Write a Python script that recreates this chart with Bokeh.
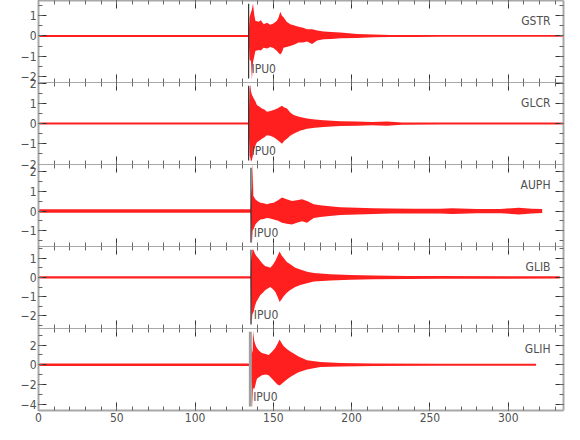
from bokeh.plotting import figure
from bokeh.layouts import column
from bokeh.models import SingleIntervalTicker, LinearAxis, Range1d, Label
from bokeh.embed import file_html
from bokeh.resources import INLINE

stations = ["GSTR", "GLCR", "AUPH", "GLIB", "GLIH"]
phase_name = "IPU0"
pick_times = [134.2, 134.2, 135.7, 135.7, 135.3]
y_ranges = [(-2.3, 1.75), (-2.02, 2.03), (-1.81, 2.38), (-2.66, 1.61), (-4.65, 3.68)]
y_intervals = [1, 1, 1, 1, 2]
x_max = 335.3

# Envelopes of each trace (time in s, upper and lower amplitude)
gstr_t = [0, 134.2, 134.8, 135.7, 136.3, 137.0, 137.8, 138.5, 140.6, 142.0, 143.8, 146.0, 148.0, 150.0,
          152.3, 153.5, 154.4, 155.5, 156.5, 158.5, 160.8, 163.5, 166.1, 169.0, 171.5, 174.7, 178.0,
          182.1, 187.0, 192.8, 203.5, 214.0, 224.7, 240.0, 256.7, 335.3]
gstr_up = [0.05, 0.05, 0.92, 1.17, 1.3, 1.6, 1.05, 0.75, 0.7, 0.78, 0.58, 0.65, 0.55, 0.62, 0.75, 0.95,
           1.2, 1.0, 0.92, 0.7, 0.58, 0.52, 0.45, 0.4, 0.33, 0.33, 0.27, 0.22, 0.2, 0.17, 0.1, 0.07,
           0.05, 0.05, 0.04, 0.04]
gstr_lo = [-0.05, -0.05, -1.17, -1.25, -2.17, -1.3, -1.0, -0.75, -0.7, -0.72, -0.58, -0.62, -0.55, -0.6,
           -0.75, -0.85, -0.92, -0.8, -0.58, -0.55, -0.5, -0.42, -0.33, -0.32, -0.28, -0.4, -0.22,
           -0.17, -0.15, -0.12, -0.1, -0.07, -0.05, -0.05, -0.04, -0.04]

glcr_t = [0, 134.2, 134.8, 135.3, 135.7, 136.3, 137.4, 138.5, 139.5, 141.0, 142.7, 144.3, 145.9, 148.0,
          150.2, 152.5, 155.5, 157.0, 158.7, 160.8, 162.9, 167.0, 171.5, 176.5, 182.1, 192.8, 203.5,
          213.0, 222.6, 232.2, 256.7, 335.3]
glcr_up = [0.05, 0.05, 1.75, 1.92, 1.6, 1.42, 1.25, 1.1, 0.92, 0.85, 0.75, 0.7, 0.58, 0.62, 0.67, 0.75,
           0.88, 0.8, 0.75, 0.55, 0.42, 0.33, 0.25, 0.2, 0.17, 0.12, 0.1, 0.08, 0.1, 0.06, 0.05, 0.05]
glcr_lo = [-0.05, -0.05, -1.58, -1.7, -1.88, -1.8, -1.42, -1.1, -0.92, -0.85, -0.75, -0.68, -0.58, -0.6,
           -0.67, -0.8, -1.0, -0.85, -0.75, -0.6, -0.5, -0.35, -0.25, -0.2, -0.17, -0.12, -0.1, -0.08,
           -0.1, -0.06, -0.05, -0.05]

auph_t = [0, 135.5, 136.0, 136.3, 136.8, 137.2, 138.5, 140.0, 141.7, 143.8, 145.9, 148.0, 150.2, 153.0,
          155.5, 158.5, 161.9, 165.0, 168.3, 171.5, 175.8, 180.0, 184.3, 192.8, 203.5, 214.1, 224.7,
          240.0, 256.7, 264.0, 280.0, 295.0, 306.7, 315.0, 321.7]
auph_up = [0.09, 0.09, 1.2, 0.9, 2.6, 0.78, 0.6, 0.5, 0.43, 0.4, 0.35, 0.4, 0.43, 0.55, 0.69, 0.6, 0.52,
           0.55, 0.6, 0.52, 0.35, 0.3, 0.26, 0.2, 0.17, 0.15, 0.13, 0.12, 0.12, 0.15, 0.11, 0.11, 0.17,
           0.12, 0.1]
auph_lo = [-0.09, -0.09, -1.2, -1.69, -0.95, -0.95, -0.69, -0.55, -0.43, -0.4, -0.35, -0.38, -0.43, -0.5,
           -0.6, -0.65, -0.69, -0.6, -0.52, -0.6, -0.35, -0.3, -0.26, -0.2, -0.17, -0.15, -0.13, -0.12,
           -0.12, -0.15, -0.11, -0.11, -0.17, -0.12, -0.1]

glib_t = [0, 135.5, 135.8, 136.1, 136.6, 137.4, 138.2, 139.1, 140.4, 141.7, 143.3, 144.9, 146.5, 148.0,
          149.6, 151.2, 152.6, 154.0, 155.2, 156.5, 158.6, 160.8, 164.0, 167.2, 171.5, 175.8, 186.4,
          199.2, 214.1, 235.0, 256.7, 333.0]
glib_up = [0.06, 0.06, 1.2, 0.9, 1.47, 1.42, 1.25, 1.12, 1.0, 0.85, 0.7, 0.58, 0.55, 0.5, 0.65, 0.85, 1.1,
           1.35, 1.15, 1.03, 0.8, 0.68, 0.5, 0.41, 0.3, 0.23, 0.16, 0.12, 0.1, 0.08, 0.07, 0.06]
glib_lo = [-0.06, -0.06, -1.5, -2.5, -1.9, -1.8, -1.5, -1.28, -1.1, -0.92, -0.8, -0.66, -0.58, -0.5, -0.6,
           -0.75, -1.0, -1.28, -1.15, -1.0, -0.8, -0.66, -0.5, -0.39, -0.3, -0.21, -0.16, -0.12, -0.1,
           -0.08, -0.07, -0.06]

glih_t = [0, 135.3, 135.9, 136.4, 136.8, 137.0, 137.8, 138.6, 139.5, 141.0, 142.7, 145.0, 147.0, 149.0,
          151.2, 152.6, 154.0, 155.2, 156.5, 158.6, 160.8, 163.5, 166.1, 171.5, 180.0, 192.8, 214.1,
          256.7, 317.8]
glih_up = [0.12, 0.12, 1.7, 1.2, 1.5, 3.44, 2.4, 2.0, 1.7, 1.4, 1.18, 1.1, 1.0, 1.3, 1.7, 2.1, 2.56, 2.2,
           1.9, 1.6, 1.35, 1.1, 0.83, 0.45, 0.28, 0.17, 0.12, 0.1, 0.1]
glih_lo = [-0.12, -0.12, -1.77, -2.3, -4.48, -2.4, -2.47, -2.0, -1.43, -1.25, -1.08, -1.0, -1.08, -1.4,
           -1.77, -2.0, -2.12, -1.95, -1.77, -1.5, -1.25, -1.0, -0.76, -0.49, -0.24, -0.17, -0.12, -0.1,
           -0.1]

traces = [(gstr_t, gstr_up, gstr_lo), (glcr_t, glcr_up, glcr_lo), (auph_t, auph_up, auph_lo),
          (glib_t, glib_up, glib_lo), (glih_t, glih_up, glih_lo)]

FONT = "'DejaVu Sans Condensed', 'Liberation Sans Narrow', Roboto, sans-serif"
TXT = "#505050"
AX = "#a8a8a8"
GAP = 10  # border kept around each frame so edge labels are not clipped


def style_axis(ax, labels, line_w):
    ax.axis_line_color = AX
    ax.axis_line_width = line_w
    ax.major_tick_in = 8
    ax.major_tick_out = 0
    ax.minor_tick_in = 4
    ax.minor_tick_out = 0
    ax.major_tick_line_color = "#333333"
    ax.minor_tick_line_color = "#666666"
    if labels:
        ax.major_label_text_font = FONT
        ax.major_label_text_font_size = "12px"
        ax.major_label_text_color = TXT
        ax.major_label_standoff = 2
    else:
        ax.major_label_text_font_size = "1px"
        ax.major_label_text_color = None
        ax.major_label_standoff = 0


figs = []
n = len(stations)
for i, st in enumerate(stations):
    last = i == n - 1
    ymin, ymax = y_ranges[i]
    span = ymax - ymin
    p = figure(frame_width=525, frame_height=82,
               x_range=Range1d(0, x_max), y_range=Range1d(ymin, ymax),
               output_backend="svg", toolbar_location=None,
               x_axis_location=None, y_axis_location=None,
               min_border_left=38, min_border_right=8,
               min_border_top=0 if i == 0 else GAP,
               min_border_bottom=22 if last else GAP,
               margin=(0 if i == 0 else -2 * GAP, 0, 0, 0))
    p.outline_line_color = None
    p.background_fill_alpha = 0
    p.border_fill_alpha = 0
    p.xgrid.visible = False
    p.ygrid.visible = False

    top = LinearAxis(ticker=SingleIntervalTicker(interval=50, num_minor_ticks=5))
    style_axis(top, False, 2 if i == 0 else 1)
    p.add_layout(top, "above")
    bot = LinearAxis(ticker=SingleIntervalTicker(interval=50, num_minor_ticks=5))
    style_axis(bot, last, 2 if last else 1)
    p.add_layout(bot, "below")
    left = LinearAxis(ticker=SingleIntervalTicker(interval=y_intervals[i], num_minor_ticks=2))
    style_axis(left, True, 2)
    p.add_layout(left, "left")
    right = LinearAxis(ticker=SingleIntervalTicker(interval=y_intervals[i], num_minor_ticks=2))
    style_axis(right, False, 2)
    p.add_layout(right, "right")

    t, up, lo = traces[i]
    p.varea(x=t, y1=lo, y2=up, fill_color="#ff0000", fill_alpha=0.88)

    if last:
        p.segment(x0=[pick_times[i]], y0=[ymin + 0.05 * span], x1=[pick_times[i]], y1=[ymax - 0.04 * span],
                  line_color="#a0a0a0", line_width=3)
    else:
        p.segment(x0=[pick_times[i]], y0=[ymin + 0.05 * span], x1=[pick_times[i]], y1=[ymax - 0.04 * span],
                  line_color="#333333", line_width=1.2)

    p.add_layout(Label(x=pick_times[i] + 1.8, y=ymin + 0.17 * span, text=phase_name,
                       text_font=FONT, text_font_size="12px", text_color=TXT,
                       text_align="left", text_baseline="middle"))
    p.add_layout(Label(x=327, y=ymax - 0.25 * span, text=st,
                       text_font=FONT, text_font_size="12px", text_color=TXT,
                       text_align="right", text_baseline="middle"))
    figs.append(p)

layout = column(*figs, spacing=0)
open("out.html", "w").write(file_html(layout, INLINE))
